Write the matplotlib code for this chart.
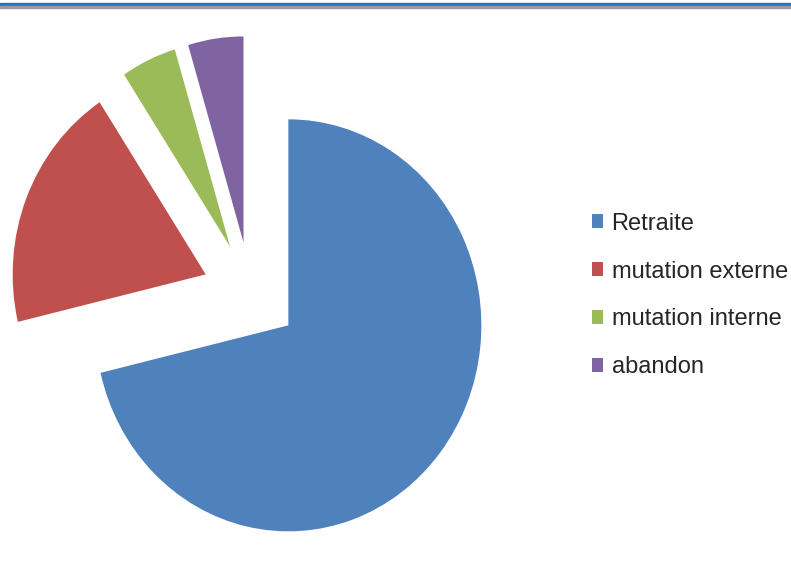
import matplotlib.pyplot as plt
from matplotlib.patches import Patch, Rectangle

labels = ["Retraite", "mutation externe", "mutation interne", "abandon"]
values = [77, 21, 5, 5]
colors = ["#4F81BD", "#C0504D", "#9BBB59", "#8064A2"]
explode = [0.25, 0.25, 0.25, 0.25]

fig = plt.figure(figsize=(7.91, 5.79), dpi=100)
ax = fig.add_axes([0, 0, 1, 1])
ax.pie(values, colors=colors, explode=explode, startangle=90,
       counterclock=False, radius=1)
ax.set_aspect("auto")
# pie centre placed at about (249, 293) px, radius ~193 px wide, ~206 px tall
ax.set_xlim(-250.5 / 193, (791 - 250.5) / 193)
ax.set_ylim(-(579 - 293.4) / 206, 293.4 / 206)
ax.axis("off")

# thin border strip at the top
fig.patches.append(Rectangle((0, 1 - 6 / 579), 1, 3 / 579, transform=fig.transFigure,
                             color="#1f78c1", zorder=5))
fig.patches.append(Rectangle((0, 1 - 7.5 / 579), 1, 1.5 / 579, transform=fig.transFigure,
                             color="#9a9a9a", zorder=5))

handles = [Patch(facecolor=c, edgecolor="none") for c in colors]
fig.legend(handles, labels, loc="center left", bbox_to_anchor=(575 / 791, 1 - 295.5 / 579),
           frameon=False, handlelength=0.5, handleheight=0.5, handletextpad=0.35,
           labelspacing=1.1, borderpad=0.2, prop={"family": "Liberation Sans", "size": 17},
           labelcolor="#262626")

fig.savefig("out.png", dpi=100)
